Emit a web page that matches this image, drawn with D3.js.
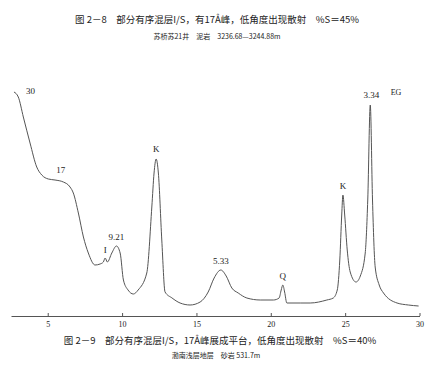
<!DOCTYPE html>
<html>
<head>
<meta charset="utf-8">
<script src="https://cdn.jsdelivr.net/npm/d3@7/dist/d3.min.js"></script>
<style>
  body { margin: 0; background: #fff; }
  text { fill: #222; }
  .cjk { font-family: "Noto Sans CJK SC", sans-serif; }
  .lbl { font-family: "Liberation Serif", "DejaVu Serif", serif; }
</style>
</head>
<body>
<div id="chart"></div>
<script>
// diffraction trace (2θ, relative intensity)
const twoTheta = [2.73, 3.02, 3.36, 3.81, 4.26, 4.60, 5.04, 5.49, 6.05, 6.50, 6.72, 7.06, 7.40, 7.73, 8.18,
  8.52, 8.74, 8.86, 9.01, 9.31, 9.62, 9.87, 10.09, 10.40, 10.76, 11.08, 11.66, 12.00, 12.15, 12.29,
  12.44, 12.67, 12.89, 13.36, 13.90, 14.57, 15.25, 15.79, 16.19, 16.64, 17.00, 17.38, 17.81, 18.39,
  19.29, 20.18, 20.56, 20.70, 20.81, 20.93, 21.08, 21.98, 22.65, 23.77, 24.20, 24.47, 24.64, 24.77,
  24.85, 24.97, 25.14, 25.34, 25.73, 26.02, 26.35, 26.52, 26.69, 26.84, 27.02, 27.29, 27.58, 28.49,
  29.25, 29.94];
const intensity = [224, 219, 199, 173, 149, 141, 137, 136, 134, 129, 123, 103, 79, 63, 51,
  52, 54, 58, 54, 63, 70, 63, 36, 26, 22, 26, 43, 109, 143, 157,
  143, 76, 24, 18, 13, 11, 14, 24, 38, 46, 40, 28, 23, 18,
  16, 16, 18, 26, 31, 24, 13, 13, 13, 16, 18, 26, 56, 101,
  121, 101, 66, 44, 34, 40, 63, 116, 211, 116, 49, 31, 23, 13,
  11, 10];

// peak labels
const peakNames = ["30", "17", "I", "9.21", "K", "5.33", "Q", "K", "3.34"];
const peakX = [2.73, 5.04, 8.86, 9.62, 12.29, 16.64, 20.81, 24.85, 26.69];
const peakY = [224, 137, 58, 70, 157, 46, 31, 121, 211];

const xTicks = [5, 10, 15, 20, 25, 30];

const width = 433, height = 368;
const svg = d3.select("#chart").append("svg")
  .attr("width", width)
  .attr("height", height);

const x = d3.scaleLinear().domain([2.53, 30]).range([11, 419.5]);
const y = d3.scaleLinear().domain([0, 240]).range([316, 76]);

// captions
svg.append("text").attr("class", "cjk")
  .attr("x", 217).attr("y", 23).attr("text-anchor", "middle")
  .attr("fill", "#222")
  .style("font-size", "9.5px")
  .text("图 2－8　部分有序混层I/S，有17Å峰，低角度出现散射　%S＝45%");
svg.append("text").attr("class", "cjk")
  .attr("x", 217).attr("y", 39).attr("text-anchor", "middle")
  .attr("fill", "#222")
  .style("font-size", "7px")
  .text("苏桥苏21井　泥岩　3236.68—3244.88m");

svg.append("text").attr("class", "lbl")
  .attr("x", 396).attr("y", 95).attr("text-anchor", "middle")
  .attr("fill", "#222")
  .style("font-size", "8px")
  .text("EG");

// trace
const line = d3.line()
  .x((d, i) => x(twoTheta[i]))
  .y(d => y(d))
  .curve(d3.curveMonotoneX);

svg.append("path")
  .datum(intensity)
  .attr("d", line)
  .attr("fill", "none")
  .attr("stroke", "#555")
  .attr("stroke-width", 1);

// peak labels
const offs = [[12, 2], [8, -6], [0, -5], [0, -6], [0, -7], [0, -6], [0, -6], [0, -6], [1, -7]];
svg.selectAll(".peak")
  .data(peakNames)
  .enter()
  .append("text")
  .attr("class", "lbl")
  .attr("fill", "#222")
  .attr("x", (d, i) => x(peakX[i]) + offs[i][0])
  .attr("y", (d, i) => y(peakY[i]) + offs[i][1])
  .attr("text-anchor", (d, i) => i < 2 ? "start" : "middle")
  .style("font-size", "9px")
  .text(d => d);

// axis
const axis = svg.append("g")
  .attr("transform", "translate(0,316)")
  .call(d3.axisBottom(x).tickValues(xTicks).tickSizeInner(-3).tickSizeOuter(0).tickPadding(3));
axis.select(".domain").attr("stroke", "#555");
axis.selectAll(".tick line").attr("stroke", "#555");
axis.selectAll(".tick text")
  .attr("class", "lbl")
  .attr("y", 5)
  .style("font-size", "8px")
  .style("fill", "#222");

svg.append("text").attr("class", "cjk")
  .attr("x", 220).attr("y", 344).attr("text-anchor", "middle")
  .attr("fill", "#222")
  .style("font-size", "9.5px")
  .text("图 2－9　部分有序混层I/S，17Å峰展成平台，低角度出现散射　%S＝40%");
svg.append("text").attr("class", "cjk")
  .attr("x", 216).attr("y", 358).attr("text-anchor", "middle")
  .attr("fill", "#222")
  .style("font-size", "7px")
  .text("渤南浅层地层　砂岩 531.7m");
</script>
</body>
</html>
